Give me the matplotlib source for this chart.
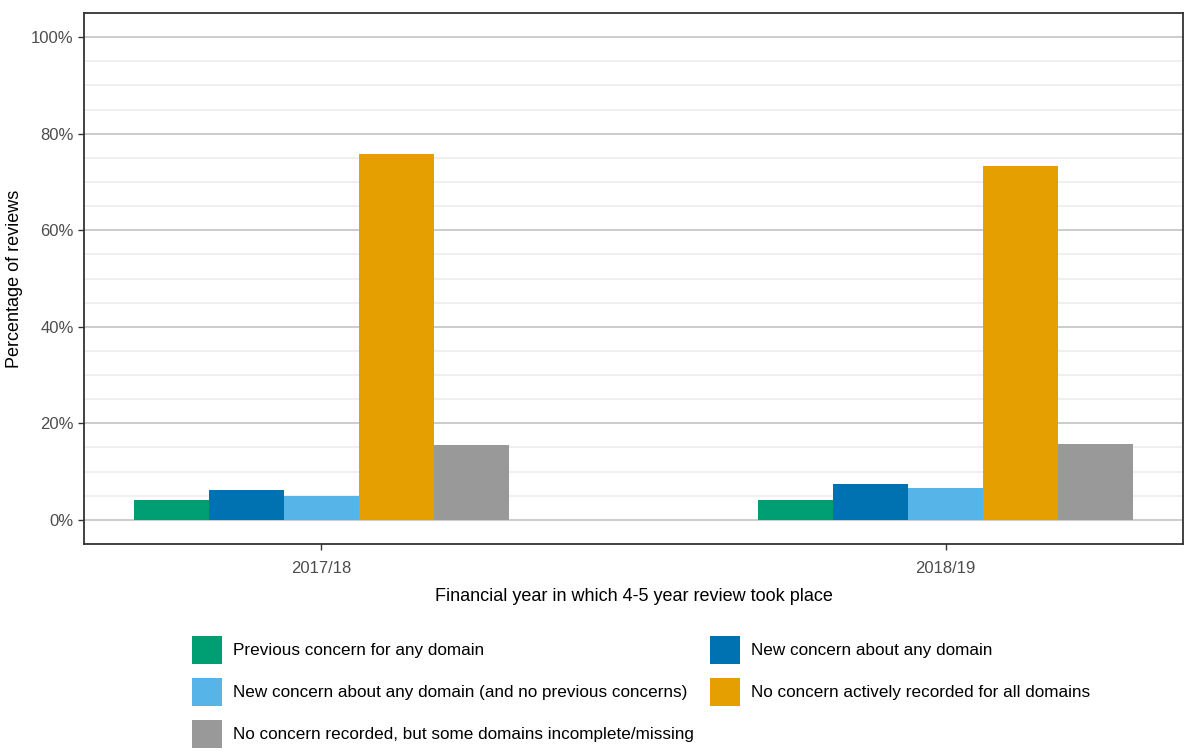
import matplotlib.pyplot as plt
import numpy as np
from matplotlib.ticker import MultipleLocator, FuncFormatter

plt.rcParams['font.family'] = ['Liberation Sans', 'DejaVu Sans']

years = ['2017/18', '2018/19']
labels = [
    'Previous concern for any domain',
    'New concern about any domain',
    'New concern about any domain (and no previous concerns)',
    'No concern actively recorded for all domains',
    'No concern recorded, but some domains incomplete/missing',
]
colours = ['#009E73', '#0072B2', '#56B4E9', '#E69F00', '#999999']

# percentage of reviews, one list per category
prev_concern = [4.1, 4.2]
new_concern = [6.1, 7.5]
new_no_prev = [4.9, 6.6]
no_concern = [75.7, 73.4]
incomplete = [15.5, 15.8]
series = [prev_concern, new_concern, new_no_prev, no_concern, incomplete]

fig = plt.figure(figsize=(11.86, 7.56), dpi=100)
ax = fig.add_axes([0.0708, 0.2804, 0.9267, 0.7024])

x = np.arange(1, len(years) + 1)
width = 0.12
handles = []
for i, (vals, col, lab) in enumerate(zip(series, colours, labels)):
    h = ax.bar(x + (i - 2) * width, vals, width, color=col, label=lab, zorder=3)
    handles.append(h)

ax.set_xlim(0.62, 2.38)
ax.set_ylim(-5, 105)
ax.yaxis.set_major_locator(MultipleLocator(20))
ax.yaxis.set_minor_locator(MultipleLocator(5))
ax.yaxis.set_major_formatter(FuncFormatter(lambda v, p: '%d%%' % v))
ax.set_xticks(x)
ax.set_xticklabels(years)

ax.grid(axis='y', which='major', color='#BEBEBE', linewidth=1.1, zorder=0)
ax.grid(axis='y', which='minor', color='#EBEBEB', linewidth=1.1, zorder=0)
ax.set_axisbelow(True)

for s in ax.spines.values():
    s.set_color('#333333')
    s.set_linewidth(1.3)

ax.tick_params(axis='both', which='major', labelsize=12, labelcolor='#4D4D4D',
               color='#333333', length=4, width=1)
ax.tick_params(axis='y', which='minor', length=0)
ax.tick_params(axis='x', pad=8)

ax.set_ylabel('Percentage of reviews', fontsize=13, labelpad=6)
ax.set_xlabel('Financial year in which 4-5 year review took place', fontsize=13, labelpad=9)

# legend filled row by row, like the original
order = [0, 2, 4, 1, 3]
fig.legend([handles[i] for i in order], [labels[i] for i in order],
           loc='upper left', bbox_to_anchor=(0.149, 0.179), ncol=2,
           frameon=False, fontsize=12.3, handlelength=1.75, handleheight=2.14,
           labelspacing=0.82, handletextpad=0.64, columnspacing=0.93)

plt.savefig('out.png', dpi=100)
